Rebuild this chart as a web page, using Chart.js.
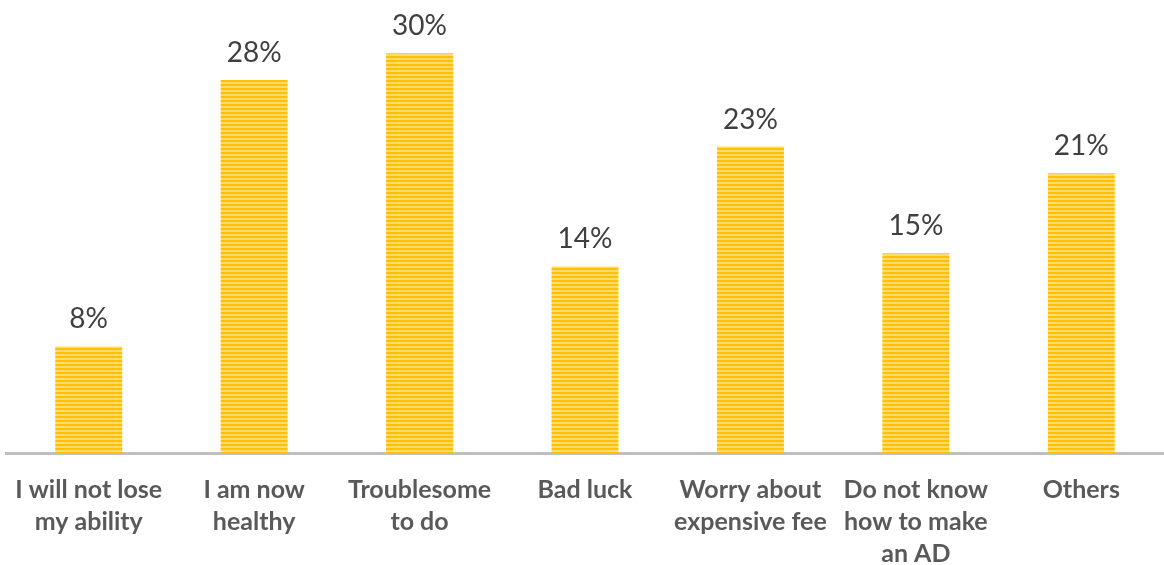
<!DOCTYPE html>
<html>
<head>
<meta charset="utf-8">
<script src="https://cdn.jsdelivr.net/npm/chart.js@4/dist/chart.umd.min.js"></script>
<style>
  html, body { margin: 0; padding: 0; background: #fff; }
  #wrap { width: 1164px; height: 565px; }
</style>
</head>
<body>
<div id="wrap"><canvas id="grafico"></canvas></div>
<script>
const categorias = [
  ['I will not lose', 'my ability'],
  ['I am now', 'healthy'],
  ['Troublesome', 'to do'],
  ['Bad luck'],
  ['Worry about', 'expensive fee'],
  ['Do not know', 'how to make', 'an AD'],
  ['Others']
];
const percentuais = [8, 28, 30, 14, 23, 15, 21];

// listras horizontais das barras
function padraoListrado() {
  const c = document.createElement('canvas');
  c.width = 4;
  c.height = 4;
  const g = c.getContext('2d');
  g.fillStyle = '#FFC000';
  g.fillRect(0, 0, 4, 2);
  g.fillStyle = '#FFDB70';
  g.fillRect(0, 2, 4, 2);
  return g.createPattern(c, 'repeat');
}

const rotulosValor = {
  id: 'rotulosValor',
  afterDatasetsDraw(chart) {
    const ctx = chart.ctx;
    const meta = chart.getDatasetMeta(0);
    ctx.save();
    ctx.font = '28px Lato';
    ctx.fillStyle = '#404040';
    ctx.textAlign = 'center';
    ctx.textBaseline = 'alphabetic';
    meta.data.forEach((bar, i) => {
      ctx.fillText(percentuais[i] + '%', bar.x, bar.y - 18);
    });
    ctx.restore();
  }
};

const ctx = document.getElementById('grafico').getContext('2d');
new Chart(ctx, {
  type: 'bar',
  data: {
    labels: categorias,
    datasets: [{
      data: percentuais,
      backgroundColor: padraoListrado(),
      borderWidth: 0,
      barPercentage: 0.405,
      categoryPercentage: 1
    }]
  },
  options: {
    responsive: true,
    maintainAspectRatio: false,
    animation: false,
    layout: { padding: { left: 6, right: 0, top: 0, bottom: -18 } },
    scales: {
      y: {
        display: false,
        min: 0,
        max: 34
      },
      x: {
        grid: { display: false },
        border: { display: true, color: '#BFBFBF', width: 3 },
        ticks: {
          color: '#595959',
          padding: 13,
          maxRotation: 0,
          autoSkip: false,
          font: { family: 'Lato', weight: 'bold', size: 25, lineHeight: 1.28 }
        }
      }
    },
    plugins: {
      legend: { display: false },
      tooltip: { enabled: false }
    }
  },
  plugins: [rotulosValor]
});
</script>
</body>
</html>
